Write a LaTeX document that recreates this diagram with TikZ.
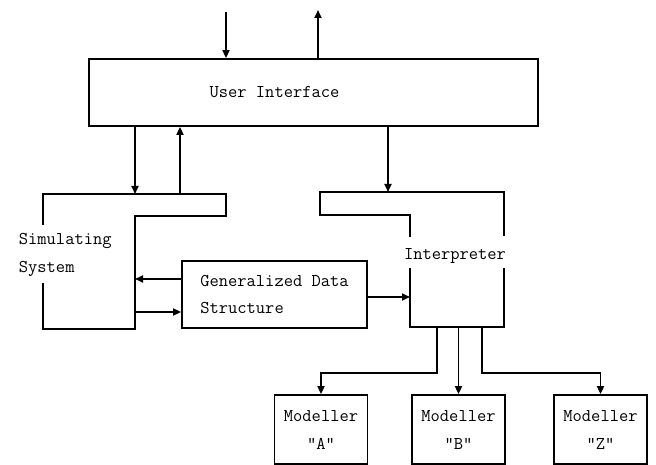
\documentclass[tikz,border=0pt]{standalone}
\usepackage{fontspec}
\usetikzlibrary{arrows.meta}

\begin{document}
\begin{tikzpicture}[x=1pt, y=-1pt, line width=1.8pt,
  arr/.style={-{Triangle[length=8pt,width=7pt]}},
  box/.style={draw, rectangle, inner sep=0pt},
  lbl/.style={font=\ttfamily\fontsize{18}{28}\selectfont, align=left, inner sep=0pt}]

\useasboundingbox (0,0) rectangle (656,465);

% user interface
\node[box, minimum width=449pt, minimum height=67pt] (ui) at (313.5,92.5) {};
\node[lbl] (uitext) at (274.5,92) {User Interface};

% in and out at the top
\coordinate (ext in) at (226,12);
\coordinate (ext out) at (318,10);
\draw[arr] (ext in) -- (ext in |- ui.north);
\draw[arr] (ext out |- ui.north) -- (ext out);

% simulating system
\draw (43,225) -- (43,194) -- (226,194) -- (226,216) -- (135,216)
  -- (135,329) -- (43,329) -- (43,283);
\node[lbl, anchor=west] (sim) at (18,255) {Simulating\\System};

\coordinate (sim in) at (135,194);
\coordinate (sim out) at (180,194);
\draw[arr] (sim in |- ui.south) -- (sim in);
\draw[arr] (sim out) -- (sim out |- ui.south);

% data structure
\node[box, lbl, minimum width=185pt, minimum height=67pt] (gds) at (274.5,294.5)
  {Generalized Data\\Structure};

\coordinate (sim port1) at (135,279);
\coordinate (sim port2) at (135,312);
\draw[arr] (gds.west |- sim port1) -- (sim port1);
\draw[arr] (sim port2) -- (gds.west |- sim port2);

% interpreter
\draw (410,237) -- (410,215) -- (320,215) -- (320,192) -- (504,192) -- (504,236);
\draw (410,268) -- (410,327) -- (504,327) -- (504,268);
\node[lbl] (interp) at (455,256) {Interpreter};

\coordinate (int in) at (388,192);
\coordinate (int port) at (410,297);
\draw[arr] (int in |- ui.south) -- (int in);
\draw[arr] (gds.east |- int port) -- (int port);

% modellers
\node[box, lbl, align=center, minimum width=93pt, minimum height=69pt] (modA) at (321,429.5) {Modeller\\"A"};
\node[box, lbl, align=center, minimum width=93pt, minimum height=69pt] (modB) at (458.5,429.5) {Modeller\\"B"};
\node[box, lbl, align=center, minimum width=93pt, minimum height=69pt] (modZ) at (600.5,429.5) {Modeller\\"Z"};

\coordinate (out A) at (437,327);
\coordinate (out B) at (458.5,327);
\coordinate (out Z) at (482,327);
\draw[arr] (out A) -- ++(0,46) -| (modA.north);
\draw[arr] (out B) -- (modB.north);
\draw[arr] (out Z) -- ++(0,46) -| (modZ.north);

\end{tikzpicture}
\end{document}
